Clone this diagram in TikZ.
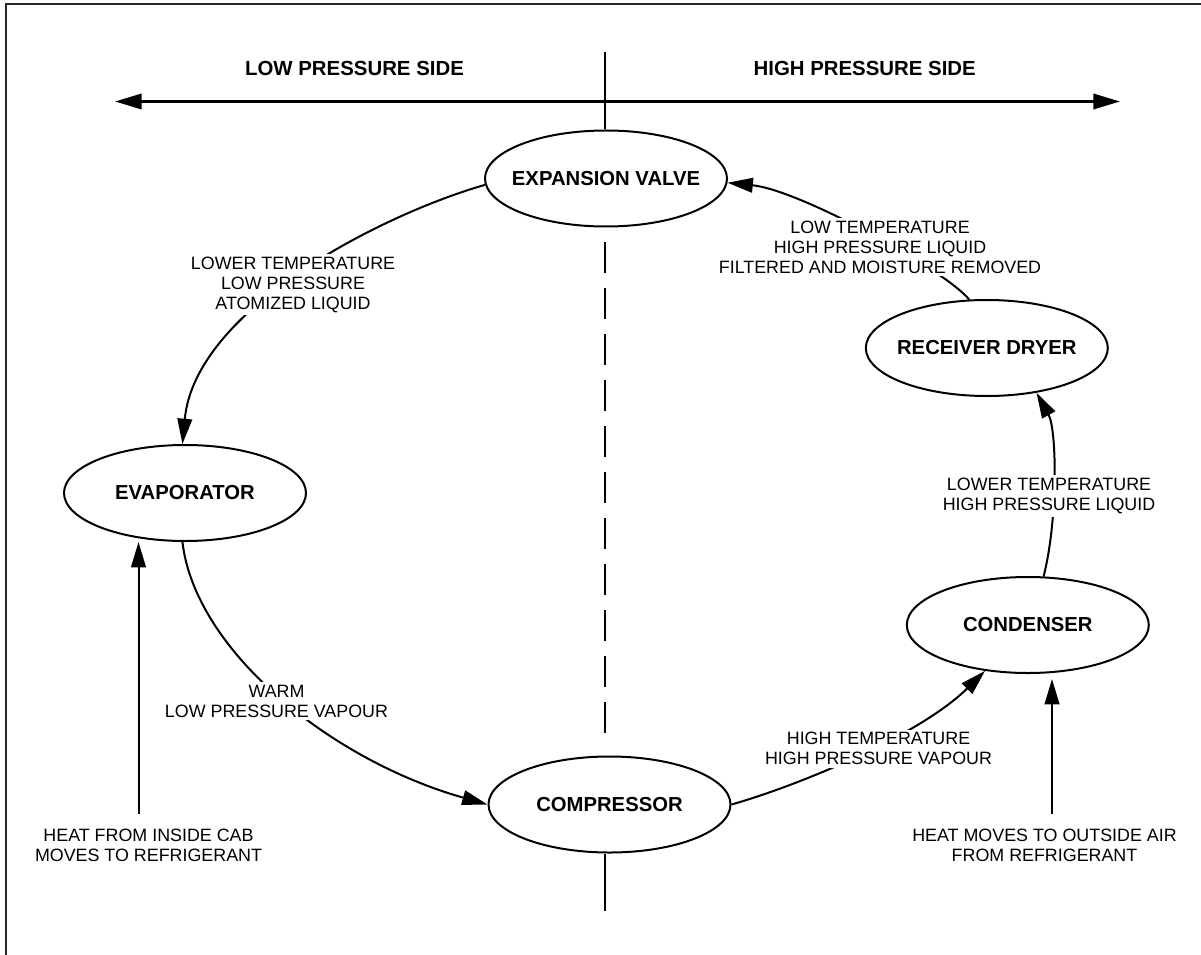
\documentclass[tikz,border=0pt]{standalone}
\usepackage{fontspec}
\setmainfont{Liberation Sans}
\usetikzlibrary{arrows.meta,shapes.geometric,calc}
\tikzset{
  unitbox/.style={ellipse, draw, line width=1.5pt, minimum width=181.5pt, minimum height=72pt,
    inner sep=0pt, font=\fontsize{15.2pt}{18pt}\selectfont\bfseries},
  hdr/.style={font=\fontsize{15.3pt}{18pt}\selectfont\bfseries},
  lbl/.style={align=center, font=\fontsize{13.4pt}{15pt}\selectfont, fill=white, inner sep=2pt},
  heatlbl/.style={align=center, font=\fontsize{13.4pt}{15pt}\selectfont, inner sep=2pt},
  plainline/.style={line width=1.5pt},
  flow/.style={line width=1.5pt, -{Triangle[length=19pt,width=11pt]}},
  sidearrow/.style={line width=1.9pt, {Triangle[length=20pt,width=11.5pt]}-{Triangle[length=20pt,width=11.5pt]}},
  frameline/.style={line width=1.4pt, black!85}
}
\begin{document}
\begin{tikzpicture}[x=0.75pt,y=-0.75pt]
\useasboundingbox (0,0) rectangle (1201,955);
\fill[white] (0,0) rectangle (1201,955);
% frame (top and left edges visible)
\draw[frameline] (6,955) -- (6,4) -- (1201,4);

% components
\node[unitbox] (ev)   at (606,178.5)   {\makebox[0pt]{EXPANSION VALVE}};
\node[unitbox] (rd)   at (986.8,348)   {\makebox[0pt]{RECEIVER DRYER}};
\node[unitbox] (cd)   at (1027.8,625)  {\makebox[0pt]{CONDENSER}};
\node[unitbox] (cp)   at (609.5,804.5) {\makebox[0pt]{COMPRESSOR}};
\node[unitbox] (evap) at (185,493)     {\makebox[0pt]{EVAPORATOR}};

% side headers
\node[hdr] (lps) at (354.5,68.8) {LOW PRESSURE SIDE};
\node[hdr] (hps) at (864.7,68.8) {HIGH PRESSURE SIDE};
\coordinate (aL) at (115,101.5);
\coordinate (aR) at (1120,101.5);
\draw[sidearrow] (aL) -- (aR);

% dividing line
\coordinate (vtop) at (605,52);
\coordinate (dtop) at (605,242);
\coordinate (dbot) at (605,733);
\coordinate (vbot) at (605,911);
\draw[plainline] (vtop) -- (vtop |- ev.north);
\draw[plainline, dash pattern=on 23.25pt off 11.25pt] (dtop) -- (dbot);
\draw[plainline] (cp.south -| vbot) -- (vbot);

% refrigerant flow
\draw[flow] (ev.183) .. controls (380,215) and (195,310) .. (evap.93);
\draw[flow] (evap.-93) .. controls (195,650) and (330,760) .. (cp.180);
\draw[flow] (cp.0) .. controls (800,785) and (920,735) .. (cd.-133);
\draw[flow] (cd.72) .. controls (1058,520) and (1057,430) .. (rd.-42);
\draw[flow] (rd.110) .. controls (945,270) and (800,190) .. (ev.-2);

% heat arrows
\coordinate (hL) at (138.5,814);
\coordinate (hR) at (1052,814);
\draw[flow] (hL) -- (hL |- evap.south);
\draw[flow] (hR) -- ($(hR |- cd.south)+(0,5)$);

% flow labels
\node[lbl] (l1) at (293,284.7) {LOWER TEMPERATURE\\LOW PRESSURE\\ATOMIZED LIQUID};
\node[lbl] (l2) at (276.5,701) {WARM\\LOW PRESSURE VAPOUR};
\node[lbl] (l3) at (878.5,748.5) {HIGH TEMPERATURE\\HIGH PRESSURE VAPOUR};
\node[lbl] (l4) at (1049,496) {LOWER TEMPERATURE\\HIGH PRESSURE LIQUID};
\node[lbl] (l5) at (880,247) {LOW TEMPERATURE\\HIGH PRESSURE LIQUID\\FILTERED AND MOISTURE REMOVED};
\node[heatlbl] (h1) at (148.5,845.5) {HEAT FROM INSIDE CAB\\MOVES TO REFRIGERANT};
\node[heatlbl] (h2) at (1044.5,845.5) {HEAT MOVES TO OUTSIDE AIR\\FROM REFRIGERANT};
\end{tikzpicture}
\end{document}
